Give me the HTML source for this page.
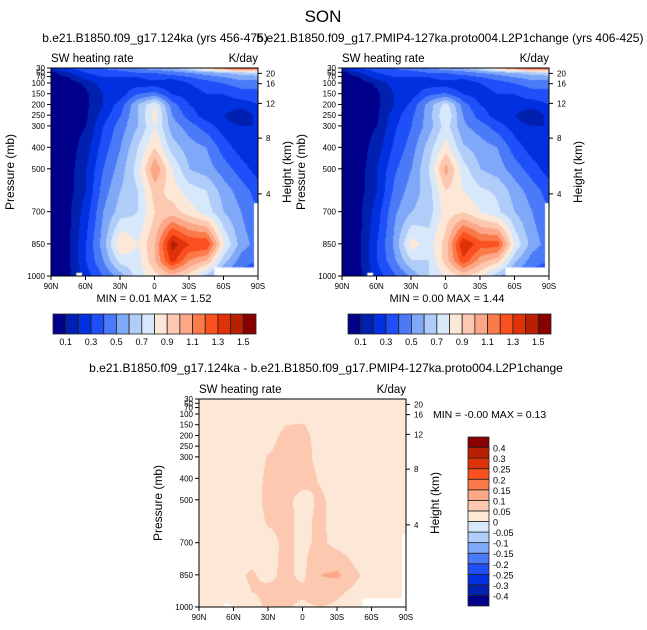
<!DOCTYPE html>
<html><head><meta charset="utf-8">
<style>
body{margin:0;background:#fff;width:647px;height:630px;overflow:hidden;font-family:"Liberation Sans",sans-serif;}
#root{position:relative;width:647px;height:630px;}
canvas{position:absolute;}
svg{position:absolute;left:0;top:0;}
</style></head>
<body>
<div id="root">
<canvas id="c1" width="207" height="208" style="left:51px;top:68px"></canvas>
<canvas id="c2" width="207" height="208" style="left:342px;top:68px"></canvas>
<canvas id="c3" width="207" height="208" style="left:199px;top:399px"></canvas>
<svg id="s" width="647" height="630"></svg>
</div>
<script>
// Data
const lats = [90,75,60,45,30,15,0,-15,-30,-45,-60,-75,-90];
const pLevels = [30,50,70,100,150,200,250,300,400,500,600,700,850,925,1000];
const field1 = [
[0.2,0.3,0.35,0.4,0.45,0.5,0.55,0.6,0.7,0.9,1.1,1.2,1.2],
[0.05,0.2,0.3,0.35,0.35,0.4,0.4,0.45,0.5,0.55,0.6,0.65,0.7],
[0.05,0.1,0.25,0.3,0.3,0.3,0.35,0.35,0.4,0.45,0.5,0.55,0.55],
[0.05,0.05,0.12,0.25,0.25,0.25,0.25,0.2,0.3,0.35,0.4,0.45,0.45],
[0.05,0.05,0.08,0.2,0.25,0.4,0.45,0.3,0.25,0.3,0.3,0.35,0.35],
[0.05,0.05,0.08,0.2,0.35,0.6,0.8,0.45,0.3,0.25,0.25,0.25,0.3],
[0.05,0.05,0.08,0.25,0.4,0.6,0.85,0.5,0.35,0.25,0.2,0.1,0.25],
[0.05,0.05,0.1,0.3,0.45,0.6,0.8,0.55,0.45,0.35,0.25,0.2,0.2],
[0.05,0.05,0.15,0.35,0.5,0.7,0.9,0.65,0.55,0.5,0.35,0.25,0.2],
[0.05,0.05,0.2,0.4,0.55,0.75,1.1,0.8,0.6,0.55,0.45,0.35,0.25],
[0.05,0.06,0.2,0.45,0.6,0.7,0.95,0.85,0.75,0.7,0.55,0.45,0.35],
[0.05,0.08,0.25,0.5,0.65,0.7,0.9,0.95,0.85,0.75,0.6,0.5,0.4],
[0.05,0.08,0.3,0.55,0.9,0.8,1.0,1.45,1.3,1.3,0.8,0.55,0.45],
[0.05,0.08,0.3,0.5,0.75,0.75,1.0,1.35,1.1,1.0,0.65,0.45,0.4],
[0.05,0.08,0.25,0.4,0.55,0.75,0.85,0.95,0.85,0.65,0.45,0.35,0.3]];
const field2 = [
[0.2,0.3,0.35,0.4,0.45,0.5,0.55,0.6,0.7,0.9,1.1,1.2,1.2],
[0.05,0.2,0.3,0.35,0.35,0.4,0.4,0.45,0.5,0.55,0.6,0.65,0.7],
[0.05,0.1,0.25,0.3,0.3,0.3,0.35,0.35,0.4,0.45,0.5,0.55,0.55],
[0.05,0.05,0.12,0.25,0.25,0.25,0.25,0.2,0.3,0.35,0.4,0.45,0.45],
[0.05,0.05,0.08,0.2,0.25,0.38,0.42,0.3,0.25,0.3,0.3,0.35,0.35],
[0.05,0.05,0.08,0.2,0.33,0.55,0.75,0.45,0.3,0.25,0.25,0.25,0.3],
[0.05,0.05,0.08,0.25,0.38,0.55,0.8,0.5,0.35,0.25,0.2,0.1,0.25],
[0.05,0.05,0.1,0.28,0.4,0.55,0.75,0.52,0.45,0.35,0.25,0.2,0.2],
[0.05,0.05,0.15,0.32,0.45,0.65,0.85,0.62,0.55,0.5,0.35,0.25,0.2],
[0.05,0.05,0.2,0.38,0.5,0.7,1.05,0.75,0.6,0.55,0.45,0.35,0.25],
[0.05,0.06,0.2,0.42,0.55,0.65,0.9,0.8,0.72,0.68,0.55,0.45,0.35],
[0.05,0.08,0.25,0.48,0.6,0.65,0.85,0.9,0.8,0.72,0.6,0.5,0.4],
[0.05,0.08,0.3,0.52,0.85,0.75,0.95,1.4,1.25,1.25,0.78,0.55,0.45],
[0.05,0.08,0.3,0.48,0.7,0.7,0.95,1.28,1.05,0.95,0.62,0.45,0.4],
[0.05,0.08,0.25,0.38,0.52,0.7,0.8,0.9,0.82,0.62,0.45,0.35,0.3]];
const fieldDiff = [
[.02,.02,.02,.02,.02,.02,.02,.02,.02,.02,.02,.02,.02],
[.02,.02,.02,.02,.02,.02,.02,.02,.02,.02,.02,.02,.02],
[.02,.02,.02,.02,.02,.02,.02,.02,.02,.02,.02,.02,.02],
[.02,.02,.02,.02,.02,.02,.02,.02,.02,.02,.02,.02,.02],
[.02,.02,.02,.02,.02,.05,.055,.02,.02,.02,.02,.02,.02],
[.02,.02,.02,.02,.03,.065,.065,.03,.02,.02,.02,.02,.02],
[.02,.02,.02,.02,.04,.07,.065,.035,.02,.02,.02,.02,.02],
[.02,.02,.02,.02,.055,.07,.06,.04,.02,.02,.02,.02,.02],
[.02,.02,.02,.03,.06,.07,.07,.045,.02,.02,.02,.02,.02],
[.02,.02,.02,.035,.06,.065,.03,.06,.03,.02,.02,.02,.02],
[.02,.02,.02,.03,.055,.06,.04,.06,.03,.02,.02,.02,.02],
[.02,.02,.02,.03,.035,.06,.04,.06,.035,.02,.02,.02,.02],
[.02,.02,.04,.055,.04,.06,.04,.1,.11,.06,.03,.02,.02],
[.02,.02,.03,.05,.06,.06,.06,.08,.06,.04,.02,.02,.02],
[.02,.02,.02,.03,.06,.055,.04,.05,.04,.02,.02,.02,.02]];
const levels = [0.1,0.2,0.3,0.4,0.5,0.6,0.7,0.8,0.9,1.0,1.1,1.2,1.3,1.4,1.5];
const levelLabels = ["0.1","0.3","0.5","0.7","0.9","1.1","1.3","1.5"];
const diffLevels = [-0.4,-0.3,-0.25,-0.2,-0.15,-0.1,-0.05,0,0.05,0.1,0.15,0.2,0.25,0.3,0.4];
const diffLabels = ["-0.4","-0.3","-0.25","-0.2","-0.15","-0.1","-0.05","0","0.05","0.1","0.15","0.2","0.25","0.3","0.4"];
const latLabels = ["90N","60N","30N","0","30S","60S","90S"];
const latTicks = [90,60,30,0,-30,-60,-90];
const pTicks = [30,50,70,100,150,200,250,300,400,500,700,850,1000];
const hTicks = [20,16,12,8,4];
const hTickP = [55,103,195,357,617];
const colors = ["#00008a","#0020b0","#0030e0","#1e4ff8","#4a7af8","#80a8f8","#b0ccf8","#d8e8fb","#fde8d8","#fcc8b0","#fca888","#fb7a4a","#fb5020","#e03208","#b82000","#880000"];

const W=207,H=208;
function xOfLat(lat){return (90-lat)/180*W;}
function yOfP(p){return (p-30)/970*H;}
function binOf(v,lv){let b=0;for(const l of lv){if(v>=l)b++;}return b;}
function sample(f,lat,p){
  let fi=(90-lat)/15; let i0=Math.min(Math.floor(fi),lats.length-2); let tx=fi-i0;
  let j0=0; while(j0<pLevels.length-2 && p>pLevels[j0+1]) j0++;
  let ty=(p-pLevels[j0])/(pLevels[j0+1]-pLevels[j0]); ty=Math.max(0,Math.min(1,ty));
  const a=f[j0][i0],b=f[j0][i0+1],c=f[j0+1][i0],d=f[j0+1][i0+1];
  return (a*(1-tx)+b*tx)*(1-ty)+(c*(1-tx)+d*tx)*ty;
}
function hex(c){return [parseInt(c.substr(1,2),16),parseInt(c.substr(3,2),16),parseInt(c.substr(5,2),16)];}
const rgb=colors.map(hex);
function fill(id,f,lv){
  const ctx=document.getElementById(id).getContext('2d');
  const img=ctx.createImageData(W,H);
  for(let y=0;y<H;y++){const p=30+970*y/H;
    for(let x=0;x<W;x++){const lat=90-180*x/W;
      const col=rgb[binOf(sample(f,lat,p),lv)];const k=(y*W+x)*4;
      img.data[k]=col[0];img.data[k+1]=col[1];img.data[k+2]=col[2];img.data[k+3]=255;}}
  ctx.putImageData(img,0,0);
  ctx.fillStyle='#fff';
  ctx.fillRect(xOfLat(68),yOfP(985),xOfLat(63)-xOfLat(68),H);
  ctx.fillRect(xOfLat(-52),yOfP(960),xOfLat(-88)-xOfLat(-52),H);
  ctx.fillRect(xOfLat(-88),yOfP(1000),W,H);
  ctx.fillRect(W-4,yOfP(660),4,H);
}
fill('c1',field1,levels);fill('c2',field2,levels);fill('c3',fieldDiff,diffLevels);

const NS='http://www.w3.org/2000/svg';const svg=document.getElementById('s');
function el(t,a,txt){const e=document.createElementNS(NS,t);for(const k in a)e.setAttribute(k,a[k]);if(txt!==undefined)e.textContent=txt;svg.appendChild(e);return e;}
function txt(x,y,s,size,anchor,name,rot){const e=el('text',{x:x,y:y,'font-size':size,'text-anchor':anchor||'start',fill:'#000','font-family':'Liberation Sans, sans-serif'},s);
  if(rot)e.setAttribute('transform','rotate(-90 '+x+' '+y+')');
  
  return e;}
function axes(ox,oy,pre){
  const r=el('rect',{x:ox,y:oy,width:W,height:H,fill:'none',stroke:'#000','stroke-width':1});
  
  
  latTicks.forEach((l,i)=>{const x=ox+xOfLat(l);el('line',{x1:x,x2:x,y1:oy+H,y2:oy+H+4,stroke:'#000'});
    txt(x,oy+H+13,latLabels[i],8,'middle',pre+'-x-tick-label');});
  pTicks.forEach(p=>{const y=oy+yOfP(p);el('line',{x1:ox-4,x2:ox,y1:y,y2:y,stroke:'#000'});
    txt(ox-6,y+3,String(p),8,'end',pre+'-y-tick-label');});
  hTicks.forEach((h,i)=>{const y=oy+yOfP(hTickP[i]);el('line',{x1:ox+W,x2:ox+W+4,y1:y,y2:y,stroke:'#000'});
    txt(ox+W+8,y+3,String(h),8,'start',pre+'-height-tick-label');});
  txt(ox,oy-6,'SW heating rate',11.5,'start',pre+'-left-subtitle');
  txt(ox+W,oy-6,'K/day',11.5,'end',pre+'-right-subtitle');
  txt(ox-37,oy+H/2,'Pressure (mb)',12,'middle',pre+'-y-axis-title',true);
  txt(ox+W+33,oy+H/2,'Height (km)',12,'middle',pre+'-height-axis-title',true);
}
axes(51,68,'left');axes(342,68,'right');axes(199,399,'diff');
txt(323,22,'SON',17,'middle','figure-title');
txt(155,42,'b.e21.B1850.f09_g17.124ka (yrs 456-475)',12,'middle','left-panel-title');
txt(450,42,'b.e21.B1850.f09_g17.PMIP4-127ka.proto004.L2P1change (yrs 406-425)',12,'middle','right-panel-title');
txt(326,372,'b.e21.B1850.f09_g17.124ka - b.e21.B1850.f09_g17.PMIP4-127ka.proto004.L2P1change',12,'middle','diff-panel-title');
txt(154,302,'MIN =   0.01  MAX =    1.52',11,'middle','left-min-max');
txt(447,302,'MIN =   0.00  MAX =    1.44',11,'middle','right-min-max');
txt(433,418,'MIN =  -0.00  MAX =   0.13',10.5,'start','diff-min-max');
function hbar(x0,pre){const bw=203/16;
  colors.forEach((c,i)=>{const r=el('rect',{x:x0+i*bw,y:314,width:bw,height:20,fill:c,stroke:'#222','stroke-width':0.8});
    
    });
  levelLabels.forEach((l,i)=>txt(x0+(1+2*i)*bw,345,l,9,'middle',pre+'-colorbar-label'));}
hbar(53,'left');hbar(348,'right');
const vb=169/16;
colors.forEach((c,i)=>{const r=el('rect',{x:468,y:606-(i+1)*vb,width:21,height:vb,fill:c,stroke:'#222','stroke-width':0.8});
  
  });
diffLabels.forEach((l,i)=>txt(493,606-(i+1)*vb+4,l,9,'start','diff-colorbar-label'));
</script>
</body></html>
